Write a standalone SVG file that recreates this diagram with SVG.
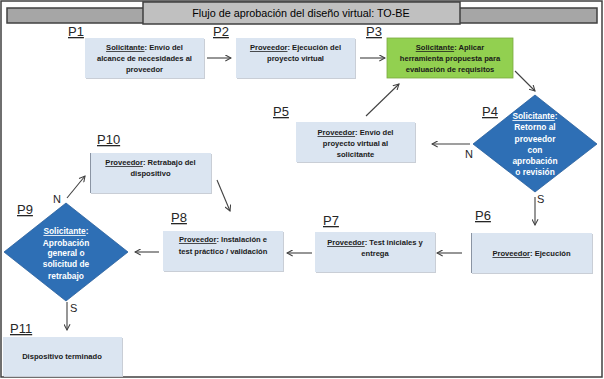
<svg xmlns="http://www.w3.org/2000/svg" width="604" height="379" viewBox="0 0 604 379">
<style>
.frame{fill:#ffffff;stroke:#404040;stroke-width:1.5}
.bar{fill:#a6a6a6;stroke:#404040;stroke-width:1.5}
.titlebox{fill:#c0c0c0;stroke:#404040;stroke-width:1.5}
.title{font-family:"Liberation Sans",Arial,sans-serif;font-size:10.8px;fill:#000;text-anchor:middle}
.box{fill:#dbe5f1}
.shadow{fill:#c9ced6}
.green{fill:#92d050;stroke:#7aa83f;stroke-width:0.8}
.dia{fill:#2e6fb5;stroke:#295f9c;stroke-width:0.8}
.t{font-family:"Liberation Sans",Arial,sans-serif;font-size:7.6px;font-weight:bold;fill:#1a1a1a;text-anchor:middle}
.dt{font-family:"Liberation Sans",Arial,sans-serif;font-size:8.4px;font-weight:bold;fill:#ffffff;text-anchor:middle}
.u{text-decoration:underline}
.lbl{font-family:"Liberation Sans",Arial,sans-serif;font-size:13px;fill:#262626;text-decoration:underline}
.ns{font-family:"Liberation Sans",Arial,sans-serif;font-size:11px;fill:#262626}
.conn line{stroke:#404040;stroke-width:1.1;marker-end:url(#ah)}
</style>
<defs>
<marker id="ah" viewBox="0 0 8 8" refX="7" refY="4" markerWidth="7" markerHeight="7" markerUnits="userSpaceOnUse" orient="auto">
<path d="M0.5,0.5 L7,4 L0.5,7.5" fill="none" stroke="#404040" stroke-width="1.2"/>
</marker>
</defs>
<rect class="frame" x="1" y="1" width="601" height="376"/>
<g id="title">
<rect class="bar" x="7" y="8" width="590" height="15"/>
<rect class="titlebox" x="143" y="2" width="317" height="22"/>
<text class="title" x="301" y="17">Flujo de aprobación del diseño virtual: TO-BE</text>
</g>
<g id="P1">
<rect class="shadow" x="86" y="39" width="119" height="40"/>
<rect class="box" x="85" y="38" width="119" height="40"/>
<text class="lbl" x="68" y="36">P1</text>
<text class="t" x="144.5" y="50"><tspan class="u">Solicitante</tspan>: Envío del</text>
<text class="t" x="144.5" y="61">alcance de necesidades al</text>
<text class="t" x="144.5" y="72">proveedor</text>
</g>
<g id="P2">
<rect class="shadow" x="237" y="39" width="119" height="40"/>
<rect class="box" x="236" y="38" width="119" height="40"/>
<text class="lbl" x="213" y="36">P2</text>
<text class="t" x="295.5" y="50"><tspan class="u">Proveedor</tspan>: Ejecución del</text>
<text class="t" x="295.5" y="61">proyecto virtual</text>
</g>
<g id="P3">
<rect class="green" x="387" y="38" width="126" height="40"/>
<text class="lbl" x="366" y="36">P3</text>
<text class="t" x="450" y="50"><tspan class="u">Solicitante</tspan>: Aplicar</text>
<text class="t" x="450" y="61">herramienta propuesta para</text>
<text class="t" x="450" y="72">evaluación de requisitos</text>
</g>
<g id="P4">
<polygon class="dia" points="535,95 597,144 535,192 473,144"/>
<text class="lbl" x="482" y="116">P4</text>
<text class="dt" x="535" y="119"><tspan class="u">Solicitante</tspan>:</text>
<text class="dt" x="535" y="130">Retorno al</text>
<text class="dt" x="535" y="142">proveedor</text>
<text class="dt" x="535" y="153">con</text>
<text class="dt" x="535" y="164">aprobación</text>
<text class="dt" x="535" y="175">o revisión</text>
</g>
<g id="P5">
<rect class="shadow" x="297" y="123" width="119" height="40"/>
<rect class="box" x="296" y="122" width="119" height="40"/>
<text class="lbl" x="273" y="116">P5</text>
<text class="t" x="355.5" y="135"><tspan class="u">Proveedor</tspan>: Envío del</text>
<text class="t" x="355.5" y="146">proyecto virtual al</text>
<text class="t" x="355.5" y="157">solicitante</text>
</g>
<g id="P6">
<rect class="shadow" x="472" y="234" width="121" height="40"/>
<rect class="box" x="471" y="233" width="121" height="40"/>
<line x1="471.5" y1="233" x2="471.5" y2="273" stroke="#8a94a3" stroke-width="1"/>
<text class="lbl" x="475" y="220">P6</text>
<text class="t" x="531.5" y="256"><tspan class="u">Proveedor</tspan>: Ejecución</text>
</g>
<g id="P7">
<rect class="shadow" x="316" y="233" width="120" height="40"/>
<rect class="box" x="315" y="232" width="120" height="40"/>
<text class="lbl" x="323" y="225">P7</text>
<text class="t" x="375" y="245"><tspan class="u">Proveedor</tspan>: Test iniciales y</text>
<text class="t" x="375" y="256">entrega</text>
</g>
<g id="P8">
<rect class="shadow" x="164" y="232" width="120" height="40"/>
<rect class="box" x="163" y="231" width="120" height="40"/>
<text class="lbl" x="171" y="222">P8</text>
<text class="t" x="223" y="242"><tspan class="u">Proveedor</tspan>: Instalación e</text>
<text class="t" x="223" y="254">test práctico / validación</text>
</g>
<g id="P9">
<polygon class="dia" points="66,203 128,252 66,301 4,252"/>
<text class="lbl" x="17" y="214">P9</text>
<text class="dt" x="66" y="234"><tspan class="u">Solicitante</tspan>:</text>
<text class="dt" x="66" y="246">Aprobación</text>
<text class="dt" x="66" y="256">general o</text>
<text class="dt" x="66" y="267">solicitud de</text>
<text class="dt" x="66" y="279">retrabajo</text>
</g>
<g id="P10">
<rect class="shadow" x="91" y="154" width="121" height="40"/>
<rect class="box" x="90" y="153" width="121" height="40"/>
<line x1="90.5" y1="153" x2="90.5" y2="193" stroke="#8a94a3" stroke-width="1"/>
<text class="lbl" x="97" y="144">P10</text>
<text class="t" x="150.5" y="165"><tspan class="u">Proveedor</tspan>: Retrabajo del</text>
<text class="t" x="150.5" y="176">dispositivo</text>
</g>
<g id="P11">
<rect class="shadow" x="4" y="338" width="119" height="39"/>
<rect class="box" x="3" y="337" width="119" height="39"/>
<text class="lbl" x="10" y="333">P11</text>
<text class="t" x="62" y="359">Dispositivo terminado</text>
</g>
<g id="connectors" class="conn">
<line x1="207" y1="58" x2="231" y2="58"/>
<line x1="360" y1="58" x2="385" y2="58"/>
<line x1="515" y1="71" x2="535" y2="91"/>
<line x1="470" y1="144" x2="432" y2="144"/>
<line x1="366" y1="116" x2="399" y2="84"/>
<line x1="535" y1="197" x2="535" y2="225"/>
<line x1="462" y1="253" x2="437" y2="253"/>
<line x1="312" y1="253" x2="287" y2="253"/>
<line x1="159" y1="252" x2="135" y2="252"/>
<line x1="67" y1="302" x2="67" y2="330"/>
<line x1="67" y1="198" x2="85" y2="176"/>
<line x1="217" y1="180" x2="230" y2="211"/>
</g>
<g id="edge-labels">
<text class="ns" x="465" y="158">N</text>
<text class="ns" x="537" y="203">S</text>
<text class="ns" x="53" y="203">N</text>
<text class="ns" x="70" y="312">S</text>
</g>
</svg>
